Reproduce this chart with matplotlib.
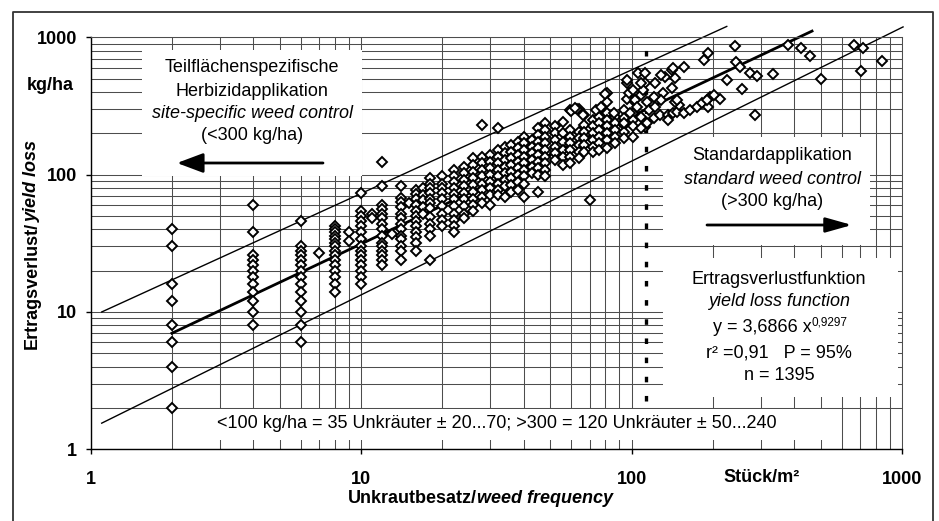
import matplotlib
matplotlib.use("Agg")
import matplotlib.pyplot as plt
from matplotlib.patches import Rectangle
from matplotlib.lines import Line2D
from matplotlib.ticker import LogLocator, NullFormatter

plt.rcParams['font.family'] = ['Liberation Sans', 'DejaVu Sans']
plt.rcParams['lines.scale_dashes'] = False

col_x = [2, 4, 6, 7, 8, 9, 10, 11, 12, 13, 14, 15, 16, 17, 18, 20, 22, 24, 26, 28,
         30, 32, 34, 36, 38, 40, 43, 45, 48, 52, 56, 59, 64, 67, 70, 72, 76, 81, 87, 94, 101]
col_y = [
    [40, 30, 16, 12, 8, 6, 4, 2],
    [60, 38, 26, 24, 22, 20, 18, 16, 14, 12, 10, 8],
    [46, 30, 28, 26, 24, 22, 20, 18, 16, 14, 12, 10, 8, 6],
    [27],
    [42, 40, 38, 36, 34, 32, 30, 28, 26, 24, 22, 20, 18, 16, 14],
    [38, 33],
    [73, 54, 50, 46, 42, 38, 34, 30, 28, 26, 24, 22, 20, 18, 16],
    [52, 48],
    [124, 82, 60, 56, 52, 48, 44, 40, 36, 32, 30, 28, 26, 24, 22],
    [37],
    [82, 68, 63, 58, 52, 48, 44, 40, 36, 34, 30, 28, 24],
    [62],
    [77, 72, 66, 60, 54, 50, 46, 42, 38, 35, 32, 28],
    [80, 71, 65, 58, 52],
    [94, 86, 80, 73, 67, 62, 57, 49, 44, 40, 36, 24],
    [97, 86, 80, 73, 66, 59, 52, 47, 42],
    [108, 98, 89, 80, 72, 66, 59, 52, 47, 42, 38],
    [114, 102, 92, 82, 73, 66, 59, 52, 48],
    [132, 118, 105, 94, 84, 75, 67, 60, 54],
    [230, 135, 121, 108, 97, 86, 77, 69, 62],
    [139, 124, 111, 99, 89, 80, 71, 60],
    [218, 151, 135, 121, 108, 97, 86, 77, 71],
    [160, 143, 128, 114, 102, 92, 82, 69],
    [165, 147, 132, 118, 105, 94, 84, 75],
    [174, 156, 139, 124, 111, 99, 89, 77],
    [189, 169, 151, 135, 121, 108, 97, 86, 69],
    [179, 160, 143, 128, 114, 102],
    [218, 194, 174, 156, 139, 124, 111, 99, 75],
    [237, 212, 189, 169, 151, 135, 121, 108, 97],
    [225, 200, 179, 160, 143, 128],
    [242, 200, 174, 151, 135, 118],
    [296, 212, 189, 169, 151, 135, 121],
    [302, 206, 184, 165, 147, 132],
    [272, 230, 206, 184, 165, 147],
    [65],
    [250, 225, 200, 179, 160, 147],
    [298, 265, 237, 212, 189, 169, 151],
    [392, 340, 280, 250, 225, 200, 179, 156],
    [265, 237, 212, 189, 169],
    [296, 258, 230, 206, 184],
    [350, 280, 250, 225, 189],
]

# einzelne Punkte im oberen Bereich
extra_x = [60, 63, 66, 74, 80, 62, 77, 86, 96, 96, 106, 103, 108, 112, 110, 122, 114, 105,
           116, 108, 99, 112, 94, 122, 121, 127, 136, 137, 142, 147, 156, 164, 174, 182,
           192, 195, 212, 201, 190, 150, 145, 131, 133, 141, 156, 145, 142, 129, 129, 147,
           141, 114, 108, 121, 98, 96, 101, 112, 108,
           185, 192, 226, 244, 251, 242, 274, 290, 257, 286,
           333, 380, 423, 457, 502, 667, 719, 708, 841]
extra_y = [292, 301, 272, 296, 385, 305, 313, 280, 463, 354, 548, 350, 381, 463, 414, 463, 340, 313,
           296, 265, 280, 224, 237, 313, 258, 272, 272, 250, 280, 288, 280, 296, 313, 331,
           313, 370, 354, 381, 350, 322, 340, 392, 517, 579, 612, 504, 597, 532, 350, 350,
           425, 237, 218, 370, 392, 489, 414, 548, 463,
           684, 766, 489, 659, 606, 865, 548, 524, 419, 272,
           541, 880, 833, 733, 498, 880, 841, 569, 677]

# Ertragsverlustfunktion und Vertrauensgrenzen (Endpunkte)
fit_x = [2, 465]
fit_y = [7.0, 1110]
upper_x = [1.1, 225]
upper_y = [10, 1200]
lower_x = [1.1, 1009]
lower_y = [1.55, 1190]
# Schwelle 300 kg/ha
thresh_x = [113.5, 113.5]
thresh_y = [2.25, 850]

W, H = 939, 521


def fx(px):
    return px / W


def fy(py):
    return 1 - py / H


fig = plt.figure(figsize=(W / 100, H / 100), dpi=100)
ax = fig.add_axes([fx(90.5), fy(449.3), fx(902) - fx(90.5), fy(37.3) - fy(449.3)])
ax.set_xscale('log')
ax.set_yscale('log')
ax.set_xlim(1, 1000)
ax.set_ylim(1, 1000)

for a in (ax.xaxis, ax.yaxis):
    a.set_minor_locator(LogLocator(base=10, subs=(2, 3, 4, 5, 6, 7, 8, 9)))
    a.set_minor_formatter(NullFormatter())
ax.set_xticks([1, 10, 100, 1000], ['1', '10', '100', '1000'])
ax.set_yticks([1, 10, 100, 1000], ['1', '10', '100', '1000'])
ax.tick_params(which='major', direction='out', length=3.5, width=1, labelsize=13)
ax.tick_params(axis='x', pad=12)
ax.tick_params(axis='y', pad=6)
ax.tick_params(which='minor', length=0)
for lab in ax.get_xticklabels() + ax.get_yticklabels():
    lab.set_fontweight('bold')

ax.set_axisbelow(True)
ax.grid(which='both', color='#4d4d4d', lw=0.75)
for s in ('top', 'right'):
    ax.spines[s].set_color('#4d4d4d')
    ax.spines[s].set_linewidth(0.75)
for s in ('left', 'bottom'):
    ax.spines[s].set_linewidth(1.0)

# weiße Textfelder über dem Gitter
boxes = [(142, 50, 362, 176), (663, 137, 870, 245), (663, 258, 898, 397), (178, 409, 830, 440)]
for x0, y0, x1, y1 in boxes:
    ax.add_patch(Rectangle((fx(x0), fy(y1)), fx(x1) - fx(x0), fy(y0) - fy(y1),
                           transform=fig.transFigure, facecolor='white', edgecolor='none',
                           zorder=1))

ax.plot(upper_x, upper_y, color='black', lw=1.0, zorder=2, clip_on=False)
ax.plot(lower_x, lower_y, color='black', lw=1.0, zorder=2, clip_on=False)
ax.plot(fit_x, fit_y, color='black', lw=2.0, zorder=2, clip_on=False)
thr, = ax.plot(thresh_x, thresh_y, color='black', lw=2.4, zorder=2)
thr.set_dashes((4.0, 9.8))

px, py = [], []
for x, ys in zip(col_x, col_y):
    px += [x] * len(ys)
    py += ys
px += extra_x
py += extra_y
ax.plot(px, py, 'D', ms=5.0, mfc='white', mec='black', mew=1.4, zorder=3, clip_on=False)

# Texte
fs = 13
fig.text(fx(27), fy(86), 'kg/ha', fontsize=fs, fontweight='bold', ha='left', va='center')
fig.text(fx(762), fy(478), 'Stück/m²', fontsize=fs, fontweight='bold', ha='center', va='center')

xl = fig.text(fx(348), fy(507), 'Unkrautbesatz/', fontsize=fs, fontweight='bold',
              ha='left', va='bottom')
ax.annotate('weed frequency', xy=(1, 0), xycoords=xl, fontsize=fs, fontweight='bold',
            fontstyle='italic', ha='left', va='bottom')
yl = fig.text(fx(24), fy(349), 'Ertragsverlust/', fontsize=fs, fontweight='bold',
              rotation=90, ha='left', va='bottom')
ax.annotate('yield loss', xy=(0, 1), xycoords=yl, fontsize=fs, fontweight='bold',
            fontstyle='italic', rotation=90, ha='left', va='bottom')

fig.text(fx(252), fy(68), 'Teilflächenspezifische', fontsize=fs, ha='center', va='center')
fig.text(fx(252), fy(91), 'Herbizidapplikation', fontsize=fs, ha='center', va='center')
fig.text(fx(252), fy(113), 'site-specific weed control', fontsize=fs, style='italic',
         ha='center', va='center')
fig.text(fx(252), fy(135), '(<300 kg/ha)', fontsize=fs, ha='center', va='center')

fig.text(fx(772), fy(155), 'Standardapplikation', fontsize=fs, ha='center', va='center')
fig.text(fx(772), fy(179), 'standard weed control', fontsize=fs, style='italic',
         ha='center', va='center')
fig.text(fx(772), fy(201), '(>300 kg/ha)', fontsize=fs, ha='center', va='center')

fig.text(fx(779), fy(280), 'Ertragsverlustfunktion', fontsize=fs, ha='center', va='center')
fig.text(fx(779), fy(302), 'yield loss function', fontsize=fs, style='italic',
         ha='center', va='center')
eq = fig.text(fx(762), fy(327), 'y = 3,6866 x', fontsize=fs, ha='center', va='center')
ax.annotate('0,9297', xy=(1, 0.78), xycoords=eq, fontsize=8.5, ha='left', va='center')
fig.text(fx(779), fy(353), 'r² =0,91   P = 95%', fontsize=fs, ha='center', va='center')
fig.text(fx(779), fy(375), 'n = 1395', fontsize=fs, ha='center', va='center')

fig.text(fx(497), fy(423), '<100 kg/ha = 35 Unkräuter ± 20...70; >300 = 120 Unkräuter ± 50...240',
         fontsize=fs, ha='center', va='center')

# Pfeile
arrow = dict(arrowstyle='-|>,head_length=1.6,head_width=0.6', lw=2, color='black',
             mutation_scale=10, shrinkA=0, shrinkB=0)
ax.annotate('', xy=(fx(177), fy(163)), xycoords='figure fraction',
            xytext=(fx(323), fy(163)), textcoords='figure fraction', arrowprops=arrow)
arrow2 = dict(arrow, arrowstyle='-|>,head_length=1.6,head_width=0.45')
ax.annotate('', xy=(fx(852), fy(225)), xycoords='figure fraction',
            xytext=(fx(707), fy(225)), textcoords='figure fraction', arrowprops=arrow2)

# Rahmen
fig.add_artist(Line2D([fx(13), fx(13), fx(933), fx(933)], [0, fy(12), fy(12), 0],
                      transform=fig.transFigure, color='#333333', lw=1.3))

fig.savefig('out.png', dpi=100)
